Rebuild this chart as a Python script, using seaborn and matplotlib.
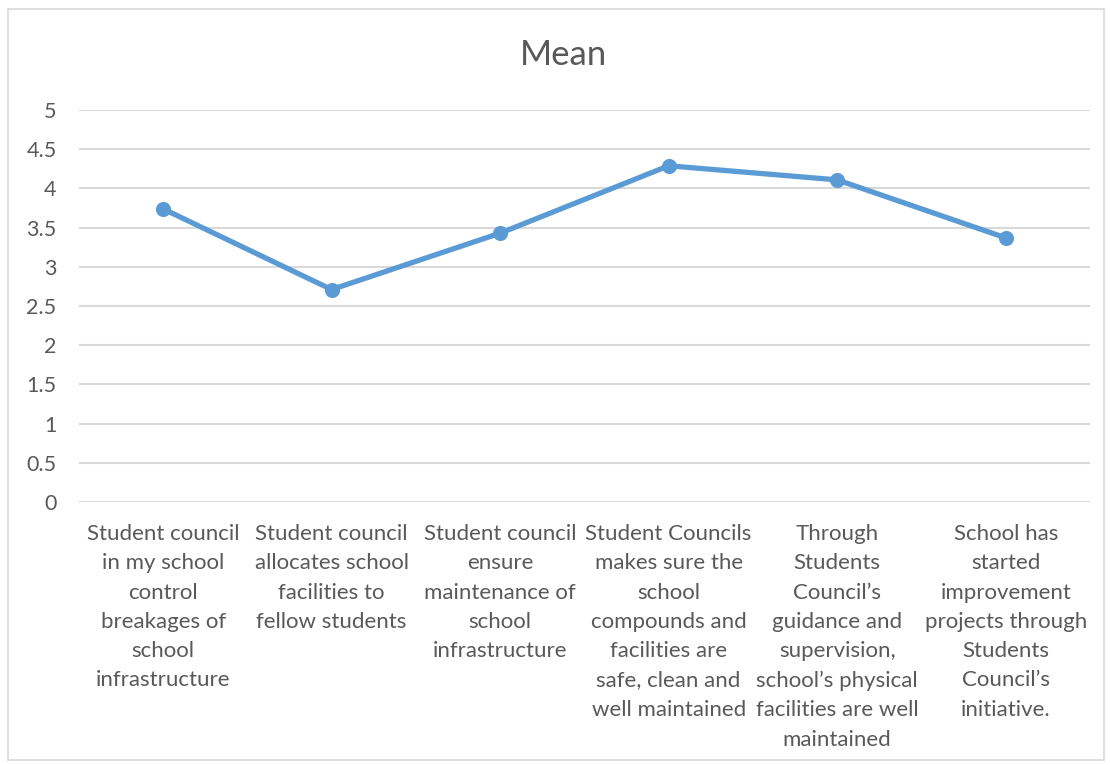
import matplotlib
matplotlib.use("Agg")
import matplotlib.pyplot as plt
import seaborn as sns
import pandas as pd
from matplotlib.patches import Rectangle

# Data
statements = [
    "Student council\nin my school\ncontrol\nbreakages of\nschool\ninfrastructure",
    "Student council\nallocates school\nfacilities to\nfellow students",
    "Student council\nensure\nmaintenance of\nschool\ninfrastructure",
    "Student Councils\nmakes sure the\nschool\ncompounds and\nfacilities are\nsafe, clean and\nwell maintained",
    "Through\nStudents\nCouncil\u2019s\nguidance and\nsupervision,\nschool\u2019s physical\nfacilities are well\nmaintained",
    "School has\nstarted\nimprovement\nprojects through\nStudents\nCouncil\u2019s\ninitiative.",
]
mean_values = [3.74, 2.71, 3.43, 4.29, 4.11, 3.37]
y_ticks = [0, 0.5, 1, 1.5, 2, 2.5, 3, 3.5, 4, 4.5, 5]
y_tick_labels = ["0", "0.5", "1", "1.5", "2", "2.5", "3", "3.5", "4", "4.5", "5"]

df = pd.DataFrame({"statement": statements, "mean": mean_values})

sns.set_theme(style="white")
plt.rcParams["font.family"] = ["Lato", "DejaVu Sans"]

text_color = "#595959"
grid_color = "#d9d9d9"
line_color = "#5b9bd5"

fig = plt.figure(figsize=(11.1, 7.65), dpi=100)
ax = fig.add_axes([0.071, 0.344, 0.911, 0.512])

sns.pointplot(
    data=df,
    x="statement",
    y="mean",
    ax=ax,
    color=line_color,
    markers="o",
    markersize=8,
    linewidth=3.8,
    errorbar=None,
)

ax.set_ylim(0, 5)
ax.set_xlim(-0.5, len(statements) - 0.5)
ax.set_yticks(y_ticks)
ax.set_yticklabels(y_tick_labels)
for y in y_ticks:
    ax.axhline(y, color=grid_color, linewidth=1.5, zorder=0)

for side in ["top", "right", "left", "bottom"]:
    ax.spines[side].set_visible(False)

ax.tick_params(axis="y", length=0, pad=16, labelsize=15.5, labelcolor=text_color)
ax.tick_params(axis="x", length=0, pad=16, labelsize=16, labelcolor=text_color)
for lbl in ax.get_xticklabels():
    lbl.set_linespacing(1.58)
    lbl.set_horizontalalignment("center")

ax.set_xlabel("")
ax.set_ylabel("")

fig.text(0.508, 0.928, "Mean", ha="center", va="center", fontsize=25, color=text_color)

# light frame around the chart area
fig.patches.append(
    Rectangle((0.007, 0.006), 0.988, 0.982, transform=fig.transFigure,
              fill=False, edgecolor="#d9d9d9", linewidth=1.2)
)

fig.savefig("out.png", dpi=100)
